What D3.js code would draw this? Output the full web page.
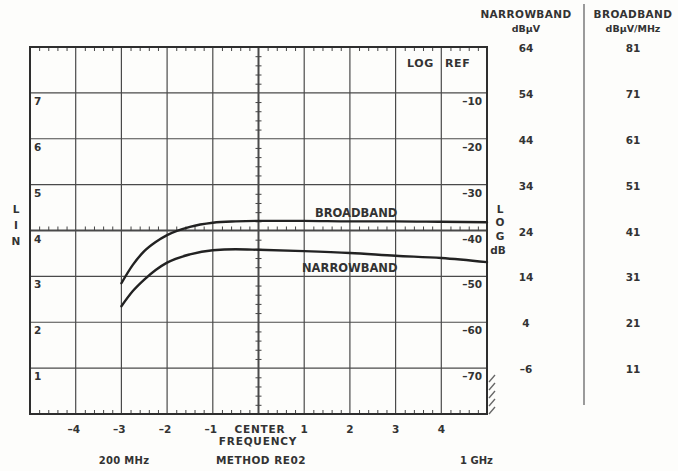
<!DOCTYPE html>
<html>
<head>
<meta charset="utf-8">
<script src="https://cdn.jsdelivr.net/npm/d3@7"></script>
<style>
  html, body { margin: 0; padding: 0; background: #fdfdfb; }
  svg { display: block; }
  text { font-family: "DejaVu Sans", "Liberation Sans", sans-serif; fill: #333; }
</style>
</head>
<body>
<svg id="chart" width="678" height="471"></svg>
<script>
// ---- data ----
const freqX = [-3, -2.75, -2.5, -2.25, -2, -1.5, -1, -0.5, 0, 1, 2, 3, 4, 5];
const broadband = [2.85, 3.25, 3.55, 3.75, 3.9, 4.08, 4.17, 4.2, 4.21, 4.21, 4.2, 4.2, 4.19, 4.18];
const narrowband = [2.35, 2.68, 2.93, 3.14, 3.3, 3.48, 3.57, 3.59, 3.58, 3.55, 3.51, 3.45, 3.4, 3.31];
const xTickLabels = [-4, -3, -2, -1, 1, 2, 3, 4];
const linTicks = [1, 2, 3, 4, 5, 6, 7];
const logTicks = [-70, -60, -50, -40, -30, -20, -10];
const nbRows = [-6, 4, 14, 24, 34, 44, 54, 64];
const bbRows = [11, 21, 31, 41, 51, 61, 71, 81];
const rowLevels = [1, 2, 3, 4, 5, 6, 7, 8];

const svg = d3.select("#chart");
const x = d3.scaleLinear().domain([-5, 5]).range([30, 487]);
const y = d3.scaleLinear().domain([0, 8]).range([414, 47]);
const ink = "#2e2e2e";

// grid
const g = svg.append("g");
g.selectAll("line.vg").data(d3.range(-4, 5)).join("line")
  .attr("x1", d => x(d)).attr("x2", d => x(d)).attr("y1", y(8)).attr("y2", y(0))
  .attr("stroke", "#4a4a4a").attr("stroke-width", d => d === 0 ? 2 : 1.2);
g.selectAll("line.hg").data(d3.range(1, 8)).join("line")
  .attr("y1", d => y(d)).attr("y2", d => y(d)).attr("x1", x(-5)).attr("x2", x(5))
  .attr("stroke", "#4a4a4a").attr("stroke-width", d => d === 4 ? 2 : 1.2);

// minor ticks via axes
const minorX = d3.range(-50, 51, 2).map(v => v / 10).filter(v => !Number.isInteger(v));
const minorY = d3.range(0, 81, 2).map(v => v / 10).filter(v => !Number.isInteger(v));
function styleAxis(sel) {
  sel.select(".domain").remove();
  sel.selectAll("text").remove();
  sel.selectAll("line").attr("stroke", "#444").attr("stroke-width", 1);
}
svg.append("g").attr("transform", `translate(0,${y(8)})`)
  .call(d3.axisBottom(x).tickValues(minorX).tickSize(4).tickFormat("")).call(styleAxis);
svg.append("g").attr("transform", `translate(0,${y(0)})`)
  .call(d3.axisTop(x).tickValues(minorX).tickSize(4).tickFormat("")).call(styleAxis);
svg.append("g").attr("transform", `translate(0,${y(4)})`)
  .call(d3.axisTop(x).tickValues(minorX).tickSize(4).tickFormat("")).call(styleAxis);
svg.append("g").attr("transform", `translate(${x(0)},0)`)
  .call(d3.axisLeft(y).tickValues(minorY).tickSize(3).tickFormat("")).call(styleAxis);
svg.append("g").attr("transform", `translate(${x(0)},0)`)
  .call(d3.axisRight(y).tickValues(minorY).tickSize(3).tickFormat("")).call(styleAxis);

// frame
svg.append("rect").attr("x", x(-5)).attr("y", y(8))
  .attr("width", x(5) - x(-5)).attr("height", y(0) - y(8))
  .attr("fill", "none").attr("stroke", ink).attr("stroke-width", 2);

// curves
const line = d3.line().x((d, i) => x(freqX[i])).y(d => y(d)).curve(d3.curveMonotoneX);
[broadband, narrowband].forEach(s => {
  svg.append("path").attr("d", line(s)).attr("fill", "none")
    .attr("stroke", "#222").attr("stroke-width", 2.4).attr("stroke-linecap", "round");
});

// in-plot labels
svg.append("text").attr("x", 315).attr("y", 217).attr("font-size", 11.5).attr("font-weight", "bold")
  .text("BROADBAND");
svg.append("text").attr("x", 302).attr("y", 272).attr("font-size", 11.5).attr("font-weight", "bold")
  .text("NARROWBAND");

// LIN tick labels (left inside)
svg.selectAll("text.lin").data(linTicks).join("text")
  .attr("x", x(-5) + 4).attr("y", d => y(d) + 12)
  .attr("font-size", 10.5).attr("font-weight", "bold").text(d => d);
// LOG tick labels (right inside)
svg.selectAll("text.log").data(logTicks).join("text")
  .attr("x", x(5) - 5).attr("y", (d, i) => y(linTicks[i]) + 12).attr("text-anchor", "end")
  .attr("font-size", 10.5).attr("font-weight", "bold").text(d => "\u2013" + Math.abs(d));
svg.append("text").attr("x", 407).attr("y", 67).attr("font-size", 11).attr("font-weight", "bold")
  .attr("letter-spacing", 0.6).text("LOG");
svg.append("text").attr("x", 445).attr("y", 67).attr("font-size", 11).attr("font-weight", "bold")
  .attr("letter-spacing", 0.6).text("REF");

// side letters
[["L", 213], ["I", 229], ["N", 245]].forEach(([t, yy]) =>
  svg.append("text").attr("x", 16).attr("y", yy).attr("text-anchor", "middle")
    .attr("font-size", 10.5).attr("font-weight", "bold").text(t));
[["L", 213], ["O", 226], ["G", 240], ["dB", 254]].forEach(([t, yy]) =>
  svg.append("text").attr("x", t === "dB" ? 498 : 500).attr("y", yy).attr("text-anchor", "middle")
    .attr("font-size", 10.5).attr("font-weight", "bold").text(t));

// x tick labels
svg.selectAll("text.xt").data(xTickLabels).join("text")
  .attr("x", d => x(d) + (d < 0 ? -2 : 0)).attr("y", 433).attr("text-anchor", "middle")
  .attr("font-size", 10.5).attr("font-weight", "bold").text(d => d < 0 ? "\u2013" + Math.abs(d) : d);
svg.append("text").attr("x", 260).attr("y", 433).attr("text-anchor", "middle")
  .attr("font-size", 10.5).attr("font-weight", "bold").attr("letter-spacing", 0.8).text("CENTER");
svg.append("text").attr("x", 258).attr("y", 445).attr("text-anchor", "middle")
  .attr("font-size", 10.5).attr("font-weight", "bold").attr("letter-spacing", 0.8).text("FREQUENCY");
svg.append("text").attr("x", 124).attr("y", 464).attr("text-anchor", "middle")
  .attr("font-size", 10).attr("font-weight", "bold").attr("letter-spacing", 0.3).text("200 MHz");
svg.append("text").attr("x", 261).attr("y", 464).attr("text-anchor", "middle")
  .attr("font-size", 10.5).attr("font-weight", "bold").attr("letter-spacing", 0.5).text("METHOD RE02");
svg.append("text").attr("x", 460).attr("y", 464)
  .attr("font-size", 10).attr("font-weight", "bold").text("1 GHz");

// hatch at bottom right
d3.range(5).forEach(i => {
  const yy = 376 + i * 8;
  svg.append("line").attr("x1", 489).attr("y1", yy + 6).attr("x2", 495).attr("y2", yy - 1)
    .attr("stroke", "#666").attr("stroke-width", 1.3);
});

// right table
const colNB = 526, colBB = 633;
svg.append("text").attr("x", colNB).attr("y", 18).attr("text-anchor", "middle")
  .attr("font-size", 10.5).attr("font-weight", "bold").attr("letter-spacing", 0.4).text("NARROWBAND");
svg.append("text").attr("x", colNB).attr("y", 32).attr("text-anchor", "middle")
  .attr("font-size", 9.5).attr("font-weight", "bold").text("dB\u03bcV");
svg.append("text").attr("x", colBB).attr("y", 18).attr("text-anchor", "middle")
  .attr("font-size", 10.5).attr("font-weight", "bold").attr("letter-spacing", 0.4).text("BROADBAND");
svg.append("text").attr("x", colBB).attr("y", 32).attr("text-anchor", "middle")
  .attr("font-size", 9.5).attr("font-weight", "bold").text("dB\u03bcV/MHz");
svg.append("line").attr("x1", 584).attr("x2", 584).attr("y1", 4).attr("y2", 405)
  .attr("stroke", "#666").attr("stroke-width", 1.3);
svg.selectAll("text.nb").data(nbRows).join("text")
  .attr("x", colNB).attr("y", (d, i) => y(rowLevels[i]) + 5).attr("text-anchor", "middle")
  .attr("font-size", 10.5).attr("font-weight", "bold").text(d => d < 0 ? "\u2013" + Math.abs(d) : d);
svg.selectAll("text.bb").data(bbRows).join("text")
  .attr("x", colBB).attr("y", (d, i) => y(rowLevels[i]) + 5).attr("text-anchor", "middle")
  .attr("font-size", 10.5).attr("font-weight", "bold").text(d => d);
</script>
</body>
</html>
